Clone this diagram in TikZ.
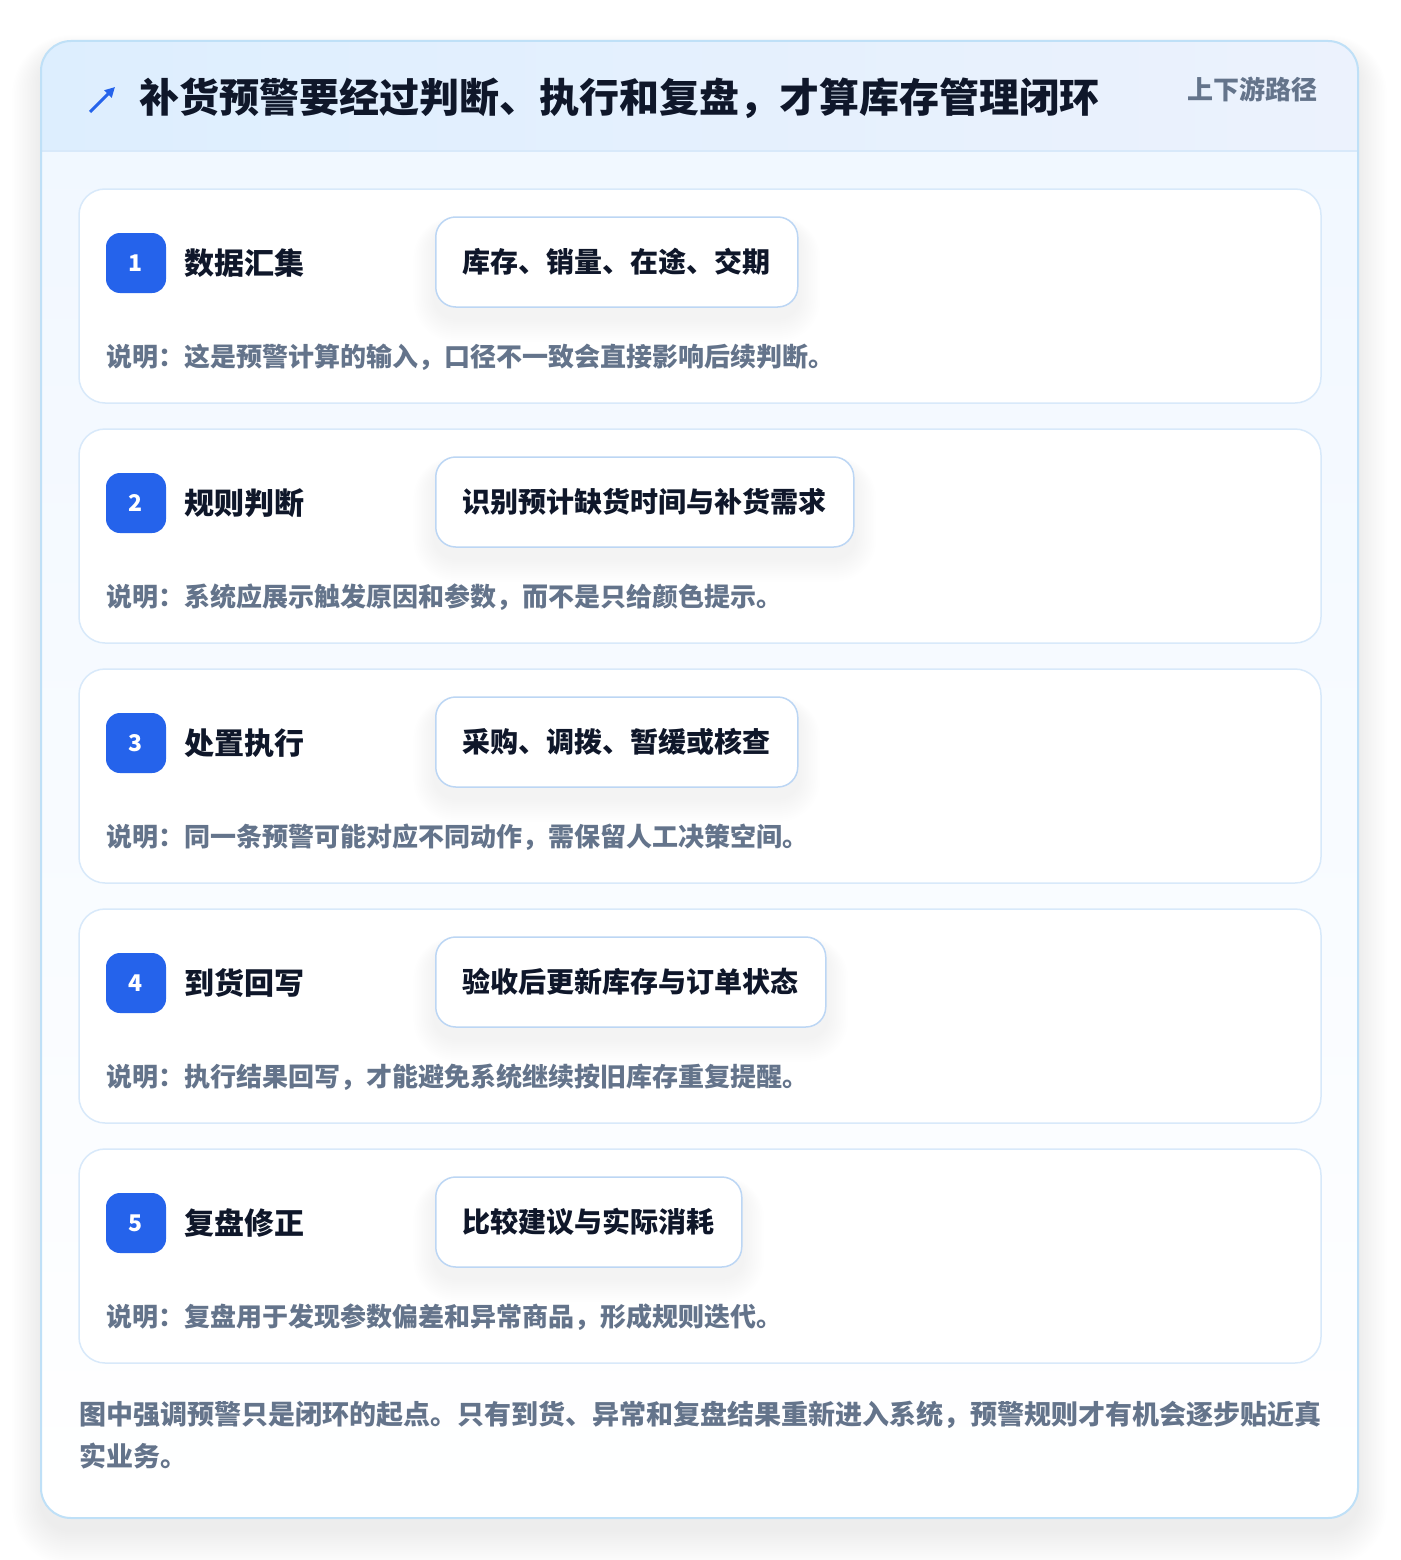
\documentclass[tikz,border=0pt]{standalone}
\usepackage{fontspec}
\setmainfont{Noto Sans CJK SC}
\usetikzlibrary{arrows.meta,calc}
\pgfdeclarelayer{cardlayer}
\pgfdeclarelayer{shadowlayer}
\pgfsetlayers{cardlayer,shadowlayer,main}
\definecolor{blueA}{HTML}{2563EB}
\definecolor{ink}{HTML}{0F172A}
\definecolor{muted}{HTML}{64748B}
\definecolor{frame}{HTML}{BFE0F7}
\definecolor{cardline}{HTML}{D8E9FA}
\definecolor{pillline}{HTML}{BCD6F4}
\definecolor{headL}{HTML}{DDEEFE}
\definecolor{headR}{HTML}{ECF2FD}
\definecolor{bodyT}{HTML}{F0F7FF}
\begin{document}
\begin{tikzpicture}[x=1pt,y=-1pt,
  card/.style={draw=cardline, line width=1.5pt, rounded corners=26pt, top color=white, bottom color=white!97!bodyT, minimum width=1242pt, minimum height=214pt, inner sep=0pt},
  badge/.style={fill=blueA, rounded corners=14pt, minimum size=60pt, inner sep=0pt, text=white, font=\bfseries\fontsize{23}{23}\selectfont},
  steptitle/.style={anchor=west, text=ink, inner sep=0pt, font=\bfseries\fontsize{30}{30}\selectfont},
  pill/.style={draw=pillline, line width=1.5pt, fill=white, rounded corners=20pt, minimum height=90pt, inner xsep=27pt, anchor=west, text=ink, font=\bfseries\fontsize{28}{28}\selectfont},
  desc/.style={anchor=west, inner sep=0pt, text=muted, font=\bfseries\fontsize{26}{26}\selectfont},
  foot/.style={anchor=west, inner sep=0pt, text=muted, font=\bfseries\fontsize{27}{27}\selectfont}]
\useasboundingbox (0,0) rectangle (1400,1560);
\begin{pgfonlayer}{cardlayer}
\fill[white] (0,0) rectangle (1400,1560);
% outer shadow
\foreach \k in {1,...,18}{
  \fill[black, opacity=0.0045, rounded corners=30pt+\k*1.6pt] (41-\k*1.6,41-\k*1.0+12) rectangle (1358+\k*1.6,1518+\k*2+12);
}
% outer card body
\path[rounded corners=30pt, top color=bodyT, bottom color=white] (41,41) rectangle (1358,1518);
\begin{scope}
  \clip[rounded corners=30pt] (41,41) rectangle (1358,1518);
  \shade[left color=headL, right color=headR] (41,41) rectangle (1358,151);
  \draw[cardline, line width=1.5pt] (41,151) -- (1358,151);
\end{scope}
\draw[frame, line width=2pt, rounded corners=30pt] (41,41) rectangle (1358,1518);
\end{pgfonlayer}
% header
\coordinate (arrS) at (90,112);
\coordinate (arrE) at (115,87);
\draw[blueA, line width=3pt, -{Triangle[length=10pt,width=10pt]}] (arrS) -- (arrE);
\node[anchor=west, inner sep=0pt, text=ink, font=\bfseries\fontsize{40}{40}\selectfont] (title) at (139,98) {补货预警要经过判断、执行和复盘，才算库存管理闭环};
\node[anchor=east, inner sep=0pt, text=muted, font=\bfseries\fontsize{26}{26}\selectfont] (path) at (1318,89) {上下游路径};
% steps
\foreach \i/\t/\p/\d in {
  1/数据汇集/库存、销量、在途、交期/说明：这是预警计算的输入，口径不一致会直接影响后续判断。,
  2/规则判断/识别预计缺货时间与补货需求/说明：系统应展示触发原因和参数，而不是只给颜色提示。,
  3/处置执行/采购、调拨、暂缓或核查/说明：同一条预警可能对应不同动作，需保留人工决策空间。,
  4/到货回写/验收后更新库存与订单状态/说明：执行结果回写，才能避免系统继续按旧库存重复提醒。,
  5/复盘修正/比较建议与实际消耗/说明：复盘用于发现参数偏差和异常商品，形成规则迭代。}{
  \pgfmathsetmacro{\top}{189+240*(\i-1)}
  \begin{pgfonlayer}{cardlayer}
  \node[card] (card\i) at (700,\top+107) {};
  \end{pgfonlayer}
  \node[badge] (badge\i) at (136,\top+74) {\i};
  \node[steptitle] (title\i) at (184,\top+74) {\t};
  \node[pill] (pill\i) at (435,\top+73) {\p};
  \begin{pgfonlayer}{shadowlayer}
  \foreach \k in {1,...,12}{
    \fill[black, opacity=0.004, rounded corners=20pt+\k*1.8pt] ($(pill\i.north west)+(-\k*1.8,-\k*0.8+10)$) rectangle ($(pill\i.south east)+(\k*1.8,\k*2+10)$);
  }
  \end{pgfonlayer}
  \node[desc] (desc\i) at (106,\top+168) {\d};
}
% footer
\node[foot] (foot1) at (79,1415) {图中强调预警只是闭环的起点。只有到货、异常和复盘结果重新进入系统，预警规则才有机会逐步贴近真};
\node[foot] (foot2) at (79,1456) {实业务。};
\end{tikzpicture}
\end{document}
